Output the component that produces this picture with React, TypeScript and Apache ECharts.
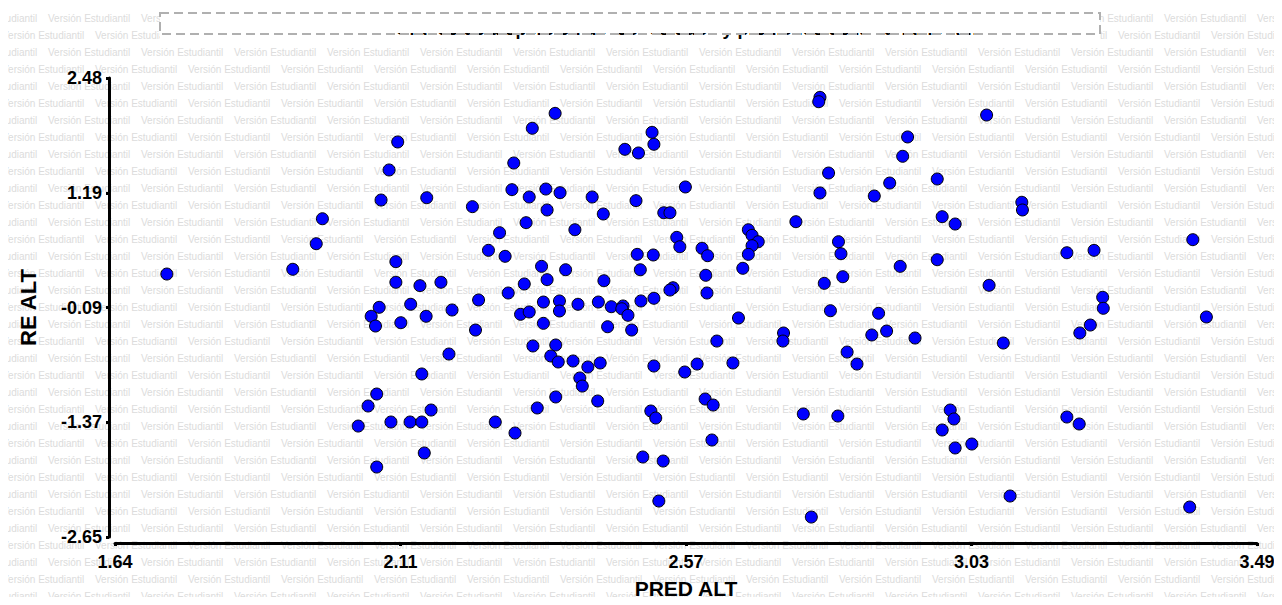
import React, { useEffect, useRef } from "react";
import * as echarts from "echarts";

const xMin = 1.64;
const xMax = 3.49;
const yMin = -2.65;
const yMax = 2.48;
const xTickLabels = ["1.64", "2.11", "2.57", "3.03", "3.49"];
const yTickLabels = ["-2.65", "-1.37", "-0.09", "1.19", "2.48"];
const xName = "PRED ALT";
const yName = "RE ALT";
const titleText = "Gráfico de dispersión de los residuos y predichos de la variable ALT";
const watermarkText = "Versión Estudiantil";

const predAlt = [
  1.724, 1.928, 1.966, 1.976, 2.071, 2.084, 2.098, 2.145, 2.219, 2.263,
  2.245, 2.095, 2.095, 2.134, 2.168, 2.229, 2.068, 2.119, 2.186, 2.055,
  2.144, 2.103, 2.062, 2.224, 2.782, 2.78, 2.353, 2.316, 2.51, 2.513,
  2.466, 2.488, 2.286, 2.796, 2.564, 2.283, 2.338, 2.361, 2.311, 2.782,
  2.87, 2.895, 2.413, 2.484, 2.34, 2.529, 2.539, 2.431, 2.306, 2.743,
  2.385, 2.666, 2.672, 2.55, 2.682, 2.812, 2.555, 2.672, 2.272, 2.591,
  2.6, 2.666, 2.816, 2.486, 2.512, 2.331, 2.37, 2.491, 2.657, 2.912,
  2.597, 2.819, 2.34, 2.432, 2.303, 2.277, 2.789, 2.544, 2.539, 2.599,
  2.334, 2.36, 2.39, 2.423, 2.444, 2.463, 2.461, 2.492, 2.513, 2.297,
  2.311, 2.36, 2.471, 2.799, 2.877, 2.65, 2.334, 2.438, 2.477, 2.723,
  2.89, 3.052, 2.924, 2.916, 2.972, 3.109, 3.11, 2.98, 3.001, 3.386,
  3.182, 3.226, 2.972, 3.056, 3.24, 3.241, 3.408, 3.22, 3.203, 2.317,
  2.354, 2.346, 2.358, 2.382, 2.406, 2.426, 2.393, 2.397, 2.354, 2.324,
  2.422, 2.513, 2.563, 2.583, 2.615, 2.641, 2.722, 2.826, 2.842, 2.866,
  2.936, 3.079, 2.181, 2.137, 2.064, 2.05, 2.152, 2.034, 2.087, 2.118,
  2.137, 2.064, 2.141, 2.256, 2.288, 2.508, 2.516, 2.495, 2.528, 2.596,
  2.609, 2.607, 2.521, 2.755, 2.811, 2.768, 2.993, 2.999, 2.98, 3.001,
  3.028, 3.09, 3.182, 3.202, 3.381,
];

const reAlt = [
  0.289, 0.342, 0.628, 0.907, 1.116, 1.452, 1.765, 1.142, 1.042, 0.751,
  0.554, 0.427, 0.197, 0.159, 0.197, -0.001, -0.083, -0.049, -0.113, -0.183,
  -0.183, -0.255, -0.292, -0.337, 2.264, 2.215, 2.085, 1.918, 1.873, 1.739,
  1.683, 1.642, 1.53, 1.418, 1.262, 1.232, 1.239, 1.198, 1.15, 1.195,
  1.161, 1.306, 1.15, 1.109, 1.005, 0.974, 0.974, 0.96, 0.863, 0.874,
  0.784, 0.784, 0.722, 0.699, 0.65, 0.65, 0.594, 0.606, 0.487, 0.577,
  0.494, 0.509, 0.516, 0.509, 0.502, 0.375, 0.337, 0.337, 0.353, 0.375,
  0.275, 0.259, 0.226, 0.214, 0.178, 0.077, 0.185, 0.136, 0.11, 0.077,
  -0.024, -0.012, -0.049, -0.024, -0.076, -0.068, -0.099, -0.012, 0.018, -0.161,
  -0.135, -0.124, -0.172, -0.121, -0.15, -0.202, -0.262, -0.3, -0.337, -0.37,
  -0.348, 2.066, 1.821, 1.605, 1.351, 1.091, 1.005, 0.93, 0.848, 0.673,
  0.527, 0.554, 0.449, 0.163, 0.029, -0.094, -0.191, -0.281, -0.37, -0.515,
  -0.504, -0.627, -0.694, -0.683, -0.75, -0.705, -0.873, -0.963, -1.085, -1.208,
  -1.13, -0.739, -0.806, -0.717, -0.46, -0.705, -0.46, -0.583, -0.717, -0.392,
  -0.426, -0.482, -0.605, -0.828, -1.052, -1.186, -1.231, -1.41, -1.365, -1.365,
  -1.365, -1.868, -1.711, -1.365, -1.488, -1.242, -1.32, -1.756, -1.801, -1.108,
  -1.175, -1.566, -2.248, -1.275, -1.298, -2.427, -1.231, -1.331, -1.454, -1.655,
  -1.611, -2.192, -1.309, -1.387, -2.315,
];

const FONT = "'Liberation Sans', Arial, sans-serif";

// title box (layout)
const BOX = { x: 160, y: 13, w: 940, h: 21 };

function buildWatermark(width: number, height: number) {
  const items: any[] = [];
  const rowStep = 17;
  const colStep = 93;
  const itemW = 83;
  for (let r = 1; 1 + r * rowStep <= height + 4; r++) {
    const y = 1 + r * rowStep;
    const startX = r % 2 === 1 ? -45 : 2;
    for (let x = startX; x < width; x += colStep) {
      // items fully hidden behind the title box
      if (y < BOX.y + BOX.h + 8 && x >= BOX.x && x + itemW <= BOX.x + BOX.w) continue;
      items.push({
        type: "text",
        x,
        y,
        silent: true,
        z: 0,
        style: {
          text: watermarkText,
          fontSize: 10,
          fontFamily: FONT,
          fill: "#dcdcdc",
          verticalAlign: "middle",
          align: "left",
        },
      });
    }
  }
  return items;
}

export default function App() {
  const ref = useRef<HTMLDivElement>(null);
  useEffect(() => {
    if (!ref.current) return;
    const chart = echarts.init(ref.current, undefined, { renderer: "svg" });
    const xStep = (xMax - xMin) / (xTickLabels.length - 1);
    const yStep = (yMax - yMin) / (yTickLabels.length - 1);
    const xTicks = xTickLabels.map((_, i) => xMin + i * xStep);
    const yTicks = yTickLabels.map((_, i) => yMin + i * yStep);
    const points = predAlt.map((x, i) => [x, reAlt[i]]);

    const option: any = {
      animation: false,
      backgroundColor: "#ffffff",
      grid: {
        left: 115,
        right: 25,
        top: 78,
        bottom: 68,
        containLabel: false,
        outerBoundsMode: "none",
      },
      xAxis: {
        type: "value",
        min: xMin,
        max: xMax,
        offset: 6,
        name: xName,
        nameLocation: "middle",
        nameGap: 35,
        nameTextStyle: { fontSize: 21, fontWeight: "bold", color: "#000", fontFamily: FONT },
        axisLine: { show: true, onZero: false, lineStyle: { color: "#000", width: 3 } },
        axisTick: { show: true, length: 3, inside: false, customValues: xTicks, lineStyle: { color: "#000", width: 3 } },
        axisLabel: {
          show: true,
          customValues: xTicks,
          margin: 10,
          fontSize: 18,
          fontWeight: "bold",
          color: "#000",
          fontFamily: FONT,
          formatter: (v: number) => xTickLabels[Math.round((v - xMin) / xStep)],
        },
        splitLine: { show: false },
      },
      yAxis: {
        type: "value",
        min: yMin,
        max: yMax,
        offset: 6,
        name: yName,
        nameLocation: "middle",
        nameRotate: 90,
        nameGap: 70,
        nameTextStyle: { fontSize: 22, fontWeight: "bold", color: "#000", fontFamily: FONT },
        axisLine: { show: true, onZero: false, lineStyle: { color: "#000", width: 3 } },
        axisTick: { show: true, length: 3, inside: false, customValues: yTicks, lineStyle: { color: "#000", width: 3 } },
        axisLabel: {
          show: true,
          customValues: yTicks,
          margin: 7,
          fontSize: 18,
          fontWeight: "bold",
          color: "#000",
          fontFamily: FONT,
          formatter: (v: number) => yTickLabels[Math.round((v - yMin) / yStep)],
        },
        splitLine: { show: false },
      },
      graphic: [
        ...buildWatermark(1282, 605),
        {
          type: "rect",
          z: 19,
          silent: true,
          shape: { x: BOX.x, y: BOX.y, width: BOX.w, height: BOX.h + 8 },
          style: { fill: "#ffffff", stroke: null },
        },
        {
          type: "text",
          x: 688,
          y: 29,
          z: 20,
          silent: true,
          style: {
            text: titleText,
            fontSize: 18,
            fontWeight: "bold",
            fontFamily: FONT,
            fill: "#000",
            align: "center",
            verticalAlign: "middle",
          },
        },
        {
          type: "rect",
          z: 21,
          silent: true,
          shape: { x: BOX.x, y: BOX.y, width: BOX.w, height: BOX.h - 1 },
          style: { fill: "#ffffff", stroke: null },
        },
        {
          type: "rect",
          z: 22,
          silent: true,
          shape: { x: BOX.x, y: BOX.y, width: BOX.w, height: BOX.h },
          style: { fill: null, stroke: "#b0b0b0", lineWidth: 2, lineDash: [9, 5] },
        },
      ],
      series: [
        {
          type: "scatter",
          data: points,
          symbol: "circle",
          symbolSize: 12,
          z: 5,
          itemStyle: { color: "#0000ff", borderColor: "#000000", borderWidth: 1, opacity: 1 },
        },
      ],
    };
    chart.setOption(option);
    return () => chart.dispose();
  }, []);
  return <div ref={ref} style={{ width: 1282, height: 605, margin: -8 }} />;
}
